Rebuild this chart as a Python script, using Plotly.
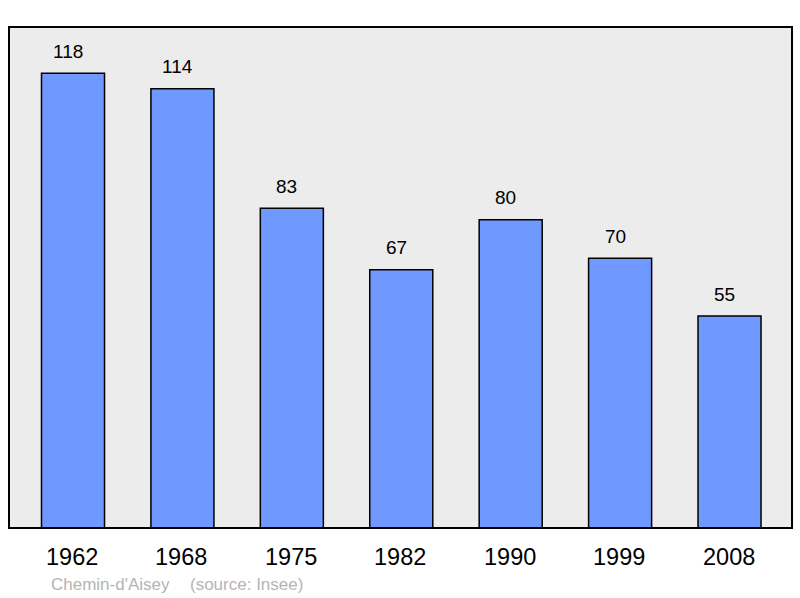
import plotly.graph_objects as go

years = ["1962", "1968", "1975", "1982", "1990", "1999", "2008"]
population = [118, 114, 83, 67, 80, 70, 55]
commune = "Chemin-d'Aisey"
source = "(source: Insee)"

W, H = 800, 598
L, R, T, B = 9, 8, 27, 70
pw, ph = W - L - R, H - T - B
FONT = "Liberation Sans, Arial, sans-serif"

xs = list(range(len(years)))
fig = go.Figure(go.Bar(
    x=xs, y=population, width=0.576,
    marker=dict(color="#7099ff", line=dict(color="#000000", width=1.5)),
    hoverinfo="skip",
))

ann = []
for i, v in zip(xs, population):
    ann.append(dict(x=i, y=v, xref="x", yref="y", text=str(v), showarrow=False,
                    yanchor="middle", yshift=22, xshift=-5,
                    font=dict(family=FONT, size=19, color="#000")))
for i, yr in zip(xs, years):
    ann.append(dict(x=i, y=0, xref="x", yref="y", text=yr, showarrow=False,
                    yanchor="middle", yshift=-29, xshift=-1,
                    font=dict(family=FONT, size=23.5, color="#000")))
ann.append(dict(x=(49 - L) / pw, y=(T + ph - 584) / ph, xref="paper", yref="paper",
                text=commune, showarrow=False, xanchor="left", yanchor="middle",
                font=dict(family=FONT, size=17, color="#b4b4b4")))
ann.append(dict(x=(188 - L) / pw, y=(T + ph - 584) / ph, xref="paper", yref="paper",
                text=source, showarrow=False, xanchor="left", yanchor="middle",
                font=dict(family=FONT, size=17, color="#b4b4b4")))

fig.update_layout(
    width=W, height=H,
    margin=dict(l=L, r=R, t=T, b=B),
    paper_bgcolor="#ffffff", plot_bgcolor="#ececec",
    showlegend=False,
    xaxis=dict(range=[-0.585, 6.571], showticklabels=False, showgrid=False,
               zeroline=False, fixedrange=True),
    yaxis=dict(range=[0, 130], showticklabels=False, showgrid=False,
               zeroline=False, fixedrange=True),
    annotations=ann,
    shapes=[dict(type="rect", xref="paper", yref="paper", x0=0, x1=1, y0=0, y1=1,
                 line=dict(color="#000000", width=2), layer="above")],
)

fig.write_html("out.html", config={"displayModeBar": False},
               post_script="document.body.style.margin='0';document.body.style.overflow='hidden';")
